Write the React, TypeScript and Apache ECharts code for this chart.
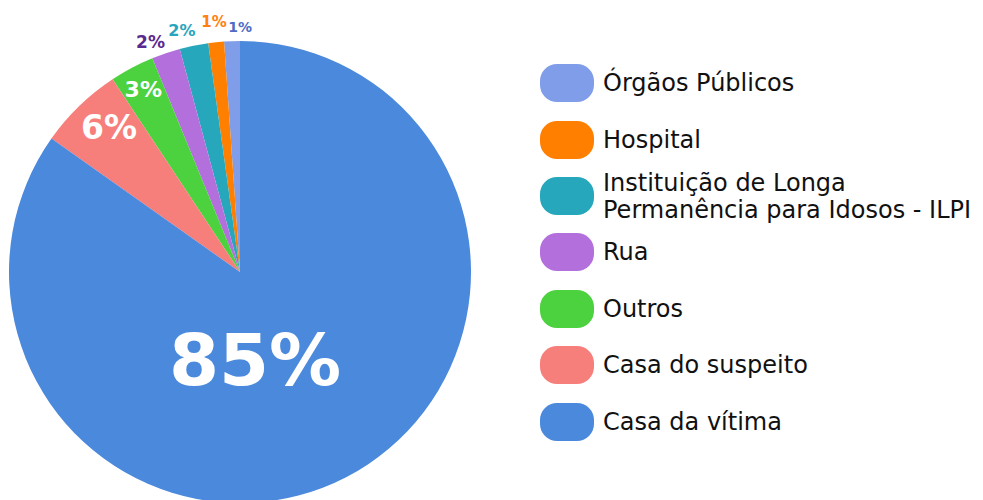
import React, { useEffect, useRef } from "react";
import * as echarts from "echarts";

const categories = [
  "Órgãos Públicos",
  "Hospital",
  "Instituição de Longa\nPermanência para Idosos - ILPI",
  "Rua",
  "Outros",
  "Casa do suspeito",
  "Casa da vítima",
];
const values = [1.1, 1.1, 2.0, 2.0, 3.1, 5.9, 84.8];
const sliceColors = ["#7F9DE8", "#FF7F00", "#26A7BC", "#B370DD", "#4CD13F", "#F67F7B", "#4A89DC"];
const labelColors = ["#4E6CC4", "#FF7F0F", "#28A5BC", "#5B2A8E", "#FFFFFF", "#FFFFFF", "#FFFFFF"];
const labelSizes = [14, 15, 16, 17, 22, 33, 72];
const labelRadius = [1.06, 1.09, 1.075, 1.07, 0.895, 0.845, 0.385];
const labelAngleShift = [-2, 0, 2, 2.5, 0, -2, -17.6];
const legendCenters = [83, 140, 196, 252, 309, 365, 422];

const CX = 240;
const CY = 272;
const R = 231;

const pill =
  "path://M17,0 H37 A17,17 0 0 1 54,17 V21 A17,17 0 0 1 37,38 H17 A17,17 0 0 1 0,21 V17 A17,17 0 0 1 17,0 Z";

export default function App() {
  const ref = useRef<HTMLDivElement>(null);
  useEffect(() => {
    document.body.style.margin = "0";
    if (!ref.current) return;
    const chart = echarts.init(ref.current, undefined, { renderer: "svg" });
    const total = values.reduce((a, b) => a + b, 0);
    const mids: number[] = [];
    let cum = 0;
    values.forEach((v) => {
      mids.push(90 + ((cum + v / 2) / total) * 360);
      cum += v;
    });
    const legends = categories.map((name, i) => {
      const twoLine = name.includes("\n");
      const h = twoLine ? 54 : 38;
      return {
        show: true,
        orient: "vertical",
        left: 540,
        top: legendCenters[i] - h / 2,
        padding: 0,
        itemWidth: 54,
        itemHeight: 38,
        icon: pill,
        selectedMode: false,
        data: [name],
        textStyle: {
          fontFamily: "DejaVu Sans",
          fontSize: 24,
          color: "#111111",
          lineHeight: 27,
          padding: [0, 0, 0, 4],
        },
      };
    });
    chart.setOption({
      animation: false,
      legend: legends,
      series: [
        {
          type: "pie",
          center: [CX, CY],
          radius: R,
          startAngle: 90,
          clockwise: false,
          avoidLabelOverlap: false,
          emphasis: { disabled: true },
          labelLine: { show: false },
          label: {
            show: true,
            position: "inside",
            fontFamily: "DejaVu Sans",
            fontWeight: "bold",
            formatter: (p: any) => Math.round(p.percent) + "%",
          },
          labelLayout: (p: any) => {
            const i = p.dataIndex;
            const a = ((mids[i] + labelAngleShift[i]) * Math.PI) / 180;
            const r = labelRadius[i] * R;
            return {
              x: CX + r * Math.cos(a),
              y: CY - r * Math.sin(a),
              align: "center",
              verticalAlign: "middle",
            };
          },
          data: categories.map((name, i) => ({
            name,
            value: values[i],
            itemStyle: { color: sliceColors[i] },
            label: { color: labelColors[i], fontSize: labelSizes[i] },
          })),
        },
      ],
    });
    return () => chart.dispose();
  }, []);
  return <div ref={ref} style={{ width: 983, height: 500 }} />;
}
